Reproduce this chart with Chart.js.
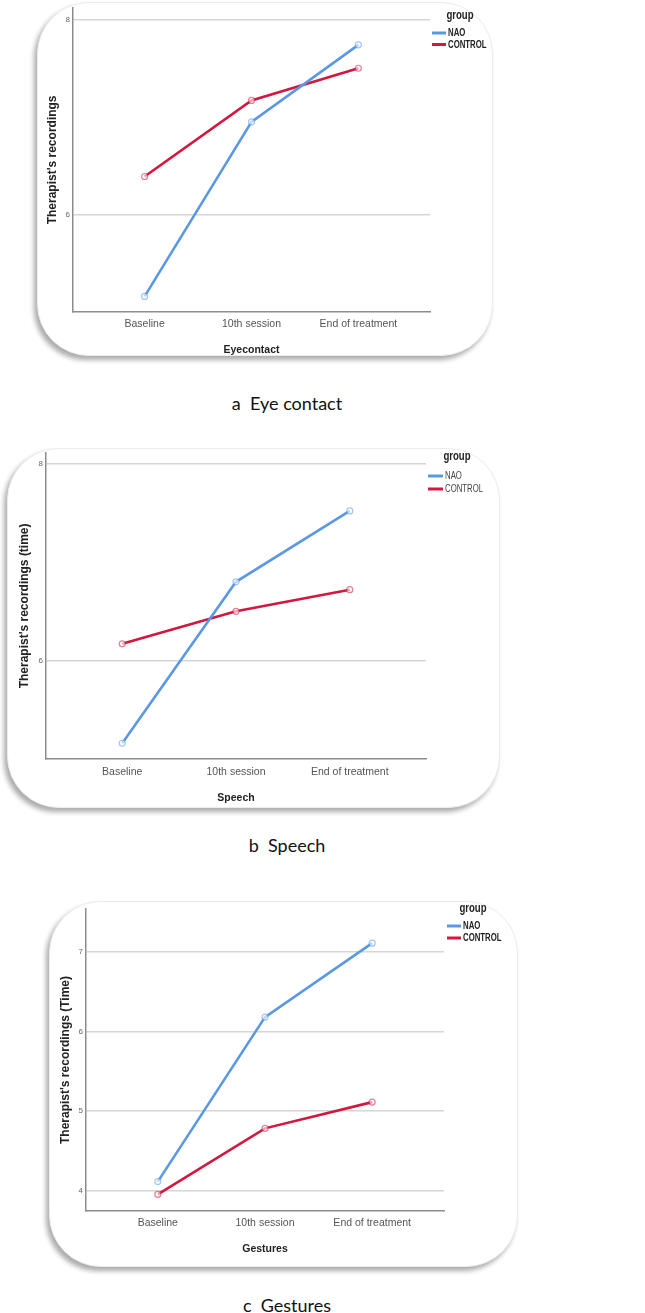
<!DOCTYPE html>
<html>
<head>
<meta charset="utf-8">
<script src="https://cdn.jsdelivr.net/npm/chart.js@4.4.1/dist/chart.umd.min.js"></script>
<style>
  html, body { margin: 0; padding: 0; background: #fff; }
  body { width: 645px; height: 1313px; position: relative; overflow: hidden; }
  .box { position: absolute; background: #fff; border: 1px solid #ececec; border-radius: 52px;
         box-shadow: -3px 4px 5px rgba(0,0,0,0.33); box-sizing: border-box; }
  .cv { position: absolute; }
  .cap { position: absolute; left: 0; width: 574px; text-align: center; font-family: Lato, "Open Sans", sans-serif;
         font-size: 18px; color: #111; white-space: pre; line-height: 1; }
</style>
</head>
<body>
<div class="box" style="left:37px;top:2px;width:456px;height:354px;"></div>
<div class="box" style="left:7px;top:448px;width:493px;height:360px;"></div>
<div class="box" style="left:49px;top:901px;width:469px;height:366px;"></div>

<div class="cv" style="left:37px;top:0px;"><canvas id="c1" width="480" height="360" style="width:480px;height:360px"></canvas></div>
<div class="cv" style="left:7px;top:445px;"><canvas id="c2" width="510" height="365" style="width:510px;height:365px"></canvas></div>
<div class="cv" style="left:49px;top:898px;"><canvas id="c3" width="490" height="372" style="width:490px;height:372px"></canvas></div>

<div class="cap" style="top:394px;">a  Eye contact</div>
<div class="cap" style="top:836px;">b  Speech</div>
<div class="cap" style="top:1296px;">c  Gestures</div>

<script>
// ---------- data ----------
const categories = ['Baseline', '10th session', 'End of treatment'];
const groups = ['NAO', 'CONTROL'];

const eyeNAO = [5.16, 6.95, 7.74];
const eyeCONTROL = [6.39, 7.17, 7.50];
const eyeTicks = [6, 8];

const speechNAO = [5.16, 6.80, 7.52];
const speechCONTROL = [6.17, 6.50, 6.72];
const speechTicks = [6, 8];

const gestNAO = [4.11, 6.18, 7.11];
const gestCONTROL = [3.95, 4.78, 5.11];
const gestTicks = [4, 5, 6, 7];

// ---------- styling ----------
const SANS = '"Liberation Sans", Arial, sans-serif';
const BLUE = '#5a98e6';
const RED = '#d4173f';

function narrowText(ctx, text, x, y, sx) {
  ctx.save();
  ctx.translate(x, y);
  ctx.scale(sx, 1);
  ctx.fillText(text, 0, 0);
  ctx.restore();
}

const groupLegend = {
  id: 'groupLegend',
  afterDraw(chart, args, o) {
    const ctx = chart.ctx;
    ctx.save();
    ctx.fillStyle = '#222';
    ctx.textBaseline = 'middle';
    ctx.textAlign = 'center';
    ctx.font = 'bold 12px ' + SANS;
    narrowText(ctx, o.title, o.titleX, o.titleY, 0.8);
    chart.data.datasets.forEach((ds, i) => {
      const y = o.y0 + i * o.dy;
      ctx.strokeStyle = ds.borderColor;
      ctx.lineWidth = 3;
      ctx.beginPath();
      ctx.moveTo(o.x0, y);
      ctx.lineTo(o.x1, y);
      ctx.stroke();
      ctx.textAlign = 'left';
      ctx.fillStyle = o.bold ? '#222' : '#444';
      ctx.font = (o.bold ? 'bold ' : '') + '10px ' + SANS;
      narrowText(ctx, ds.label, o.x1 + 2, y + 0.5, 0.78);
    });
    ctx.restore();
  }
};

function makeChart(id, nao, control, ticks, yMin, yMax, yTitle, xTitle, lay, leg) {
  const series = [nao, control];
  const colors = [BLUE, RED];
  const pointCol = ['rgba(90,152,230,0.55)', 'rgba(212,23,63,0.55)'];
  new Chart(document.getElementById(id), {
    type: 'line',
    data: {
      datasets: groups.map((g, k) => ({
        label: g,
        data: series[k].map((v, i) => ({ x: i, y: v })),
        borderColor: colors[k],
        borderWidth: 2.6,
        pointRadius: 3,
        pointBorderWidth: 1.2,
        pointBorderColor: pointCol[k],
        pointBackgroundColor: 'rgba(255,255,255,0.6)',
        tension: 0
      }))
    },
    options: {
      responsive: false,
      animation: false,
      events: [],
      layout: { padding: { top: lay.top, right: lay.right, left: 0, bottom: 0 } },
      plugins: { legend: { display: false }, tooltip: { enabled: false }, groupLegend: leg },
      scales: {
        x: {
          type: 'linear',
          min: -0.67, max: 2.67,
          afterBuildTicks: s => { s.ticks = categories.map((c, i) => ({ value: i })); },
          afterFit: s => { s.height = lay.xh; },
          grid: { display: false, drawTicks: false },
          border: { display: true, color: '#8c8c8c', width: 1.5 },
          ticks: { callback: v => categories[v], color: '#555', font: { family: SANS, size: 10.5 }, padding: lay.xtp, maxRotation: 0, autoSkip: false },
          title: { display: true, text: xTitle, color: '#222', font: { family: SANS, size: 10.5, weight: 'bold' }, padding: { top: 0, bottom: lay.xtb } }
        },
        y: {
          min: yMin, max: yMax,
          afterBuildTicks: s => { s.ticks = ticks.map(v => ({ value: v })); },
          afterFit: s => { s.width = lay.yw; },
          grid: { color: '#d6d6d6', lineWidth: 1.5, drawTicks: false },
          border: { display: true, color: '#8c8c8c', width: 1.5 },
          ticks: { color: '#666', font: { family: SANS, size: 8 }, padding: 3 },
          title: { display: true, text: yTitle, color: '#222', font: { family: SANS, size: 12, weight: 'bold' }, padding: { top: lay.ytp, bottom: 0 } }
        }
      }
    },
    plugins: [groupLegend]
  });
}

makeChart('c1', eyeNAO, eyeCONTROL, eyeTicks, 5.0, 8.12,
  "Therapist's recordings", 'Eyecontact',
  { top: 7, right: 87, yw: 36, xh: 48, xtp: 6, xtb: 4, ytp: 8 },
  { title: 'group', titleX: 423, titleY: 16, x0: 395, x1: 409, y0: 33, dy: 11.5, bold: true });

makeChart('c2', speechNAO, speechCONTROL, speechTicks, 5.0, 8.11,
  "Therapist's recordings (time)", 'Speech',
  { top: 5, right: 91, yw: 39, xh: 51, xtp: 7, xtb: 6, ytp: 10 },
  { title: 'group', titleX: 450, titleY: 12, x0: 421, x1: 436, y0: 31, dy: 13, bold: false });

makeChart('c3', gestNAO, gestCONTROL, gestTicks, 3.74, 7.54,
  "Therapist's recordings (Time)", 'Gestures',
  { top: 11, right: 95, yw: 37, xh: 59, xtp: 6, xtb: 15, ytp: 9 },
  { title: 'group', titleX: 424, titleY: 11, x0: 398, x1: 412, y0: 28, dy: 12, bold: true });
</script>
</body>
</html>
